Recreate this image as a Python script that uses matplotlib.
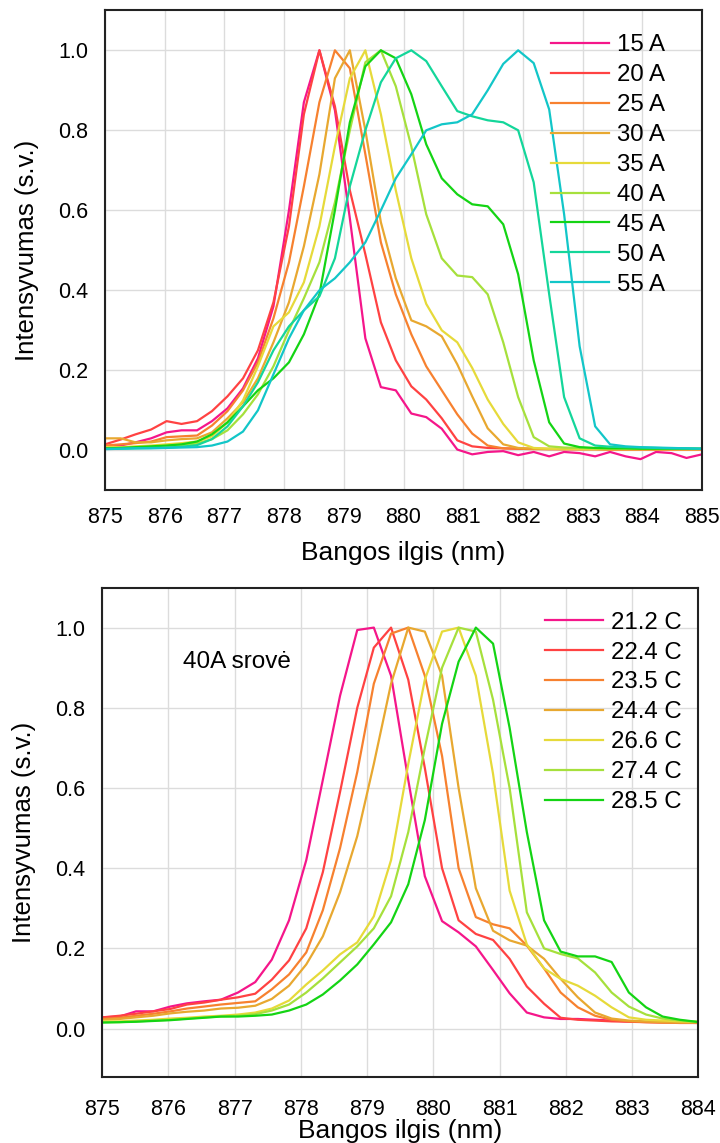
import matplotlib
matplotlib.use("Agg")
import matplotlib.pyplot as plt

# wavelength grid (nm)
wavelengths = [875.00, 875.26, 875.51, 875.77, 876.03, 876.28, 876.54, 876.79, 877.05, 877.31,
               877.56, 877.82, 878.08, 878.33, 878.59, 878.85, 879.10, 879.36, 879.62, 879.87,
               880.13, 880.38, 880.64, 880.90, 881.15, 881.41, 881.67, 881.92, 882.18, 882.44,
               882.69, 882.95, 883.21, 883.46, 883.72, 883.97, 884.23, 884.49, 884.74, 885.00]

# top chart: spectra at different currents
current_labels = ["15 A", "20 A", "25 A", "30 A", "35 A", "40 A", "45 A", "50 A", "55 A"]
i15 = [0.010, 0.012, 0.020, 0.030, 0.045, 0.050, 0.050, 0.073, 0.105, 0.155,
       0.23, 0.36, 0.60, 0.87, 1.00, 0.85, 0.58, 0.28, 0.158, 0.150,
       0.092, 0.083, 0.054, 0.002, -0.010, -0.004, -0.002, -0.012, -0.004, -0.015,
       -0.004, -0.007, -0.015, -0.004, -0.015, -0.022, -0.004, -0.007, -0.019, -0.010]
i20 = [0.015, 0.027, 0.040, 0.052, 0.073, 0.066, 0.073, 0.098, 0.135, 0.18,
       0.25, 0.37, 0.56, 0.84, 1.00, 0.86, 0.65, 0.49, 0.32, 0.225,
       0.16, 0.127, 0.08, 0.025, 0.010, 0.006, 0.005, 0.004, 0.004, 0.003,
       0.003, 0.003, 0.003, 0.002, 0.002, 0.002, 0.002, 0.002, 0.002, 0.002]
i25 = [0.012, 0.015, 0.018, 0.022, 0.033, 0.035, 0.037, 0.062, 0.098, 0.15,
       0.22, 0.33, 0.47, 0.66, 0.87, 1.00, 0.955, 0.74, 0.52, 0.39,
       0.29, 0.21, 0.15, 0.09, 0.042, 0.012, 0.005, 0.004, 0.003, 0.003,
       0.003, 0.003, 0.003, 0.002, 0.002, 0.002, 0.002, 0.002, 0.002, 0.002]
i30 = [0.030, 0.030, 0.020, 0.020, 0.025, 0.028, 0.030, 0.045, 0.080, 0.12,
       0.18, 0.27, 0.37, 0.51, 0.69, 0.93, 1.00, 0.80, 0.57, 0.43,
       0.325, 0.31, 0.285, 0.215, 0.135, 0.055, 0.015, 0.006, 0.004, 0.004,
       0.003, 0.003, 0.003, 0.003, 0.003, 0.003, 0.003, 0.003, 0.003, 0.003]
i35 = [0.008, 0.008, 0.010, 0.012, 0.015, 0.018, 0.022, 0.035, 0.070, 0.125,
       0.21, 0.31, 0.345, 0.42, 0.56, 0.76, 0.93, 1.00, 0.84, 0.65,
       0.48, 0.366, 0.30, 0.27, 0.206, 0.127, 0.066, 0.020, 0.006, 0.004,
       0.004, 0.003, 0.003, 0.003, 0.003, 0.003, 0.003, 0.003, 0.003, 0.003]
i40 = [0.005, 0.006, 0.007, 0.008, 0.010, 0.013, 0.017, 0.028, 0.050, 0.090,
       0.14, 0.21, 0.30, 0.38, 0.47, 0.62, 0.80, 0.97, 1.00, 0.91,
       0.76, 0.59, 0.48, 0.437, 0.433, 0.39, 0.27, 0.133, 0.033, 0.010,
       0.007, 0.006, 0.005, 0.005, 0.004, 0.004, 0.004, 0.004, 0.004, 0.004]
i45 = [0.005, 0.006, 0.008, 0.010, 0.012, 0.015, 0.022, 0.040, 0.070, 0.11,
       0.15, 0.18, 0.22, 0.29, 0.39, 0.60, 0.82, 0.96, 1.00, 0.98,
       0.89, 0.765, 0.68, 0.64, 0.615, 0.61, 0.565, 0.44, 0.225, 0.070,
       0.017, 0.008, 0.006, 0.005, 0.005, 0.004, 0.004, 0.004, 0.004, 0.004]
i50 = [0.004, 0.004, 0.005, 0.006, 0.007, 0.009, 0.013, 0.028, 0.060, 0.11,
       0.17, 0.25, 0.31, 0.35, 0.385, 0.48, 0.66, 0.80, 0.92, 0.98,
       1.00, 0.973, 0.91, 0.848, 0.835, 0.825, 0.82, 0.80, 0.67, 0.39,
       0.133, 0.030, 0.012, 0.009, 0.008, 0.007, 0.006, 0.005, 0.005, 0.004]
i55 = [0.003, 0.004, 0.005, 0.005, 0.006, 0.007, 0.008, 0.012, 0.022, 0.047,
       0.10, 0.19, 0.28, 0.35, 0.40, 0.43, 0.47, 0.52, 0.60, 0.68,
       0.74, 0.80, 0.815, 0.82, 0.84, 0.90, 0.966, 1.00, 0.968, 0.852,
       0.59, 0.26, 0.060, 0.015, 0.010, 0.008, 0.007, 0.006, 0.005, 0.004]

# bottom chart: 40 A spectra at different temperatures (first 36 wavelengths)
temp_labels = ["21.2 C", "22.4 C", "23.5 C", "24.4 C", "26.6 C", "27.4 C", "28.5 C"]
t212 = [0.028, 0.030, 0.043, 0.043, 0.055, 0.063, 0.068, 0.072, 0.090, 0.116,
        0.172, 0.27, 0.42, 0.62, 0.83, 0.994, 1.00, 0.88, 0.62, 0.38,
        0.268, 0.24, 0.205, 0.146, 0.088, 0.040, 0.028, 0.024, 0.024, 0.022,
        0.020, 0.018, 0.017, 0.017, 0.016, 0.015]
t224 = [0.028, 0.032, 0.037, 0.043, 0.049, 0.060, 0.065, 0.072, 0.078, 0.087,
        0.122, 0.17, 0.25, 0.39, 0.59, 0.80, 0.95, 1.00, 0.87, 0.65,
        0.40, 0.27, 0.236, 0.221, 0.174, 0.105, 0.062, 0.027, 0.022, 0.020,
        0.018, 0.017, 0.016, 0.015, 0.014, 0.014]
t235 = [0.024, 0.027, 0.032, 0.037, 0.043, 0.050, 0.055, 0.060, 0.064, 0.068,
        0.098, 0.135, 0.19, 0.295, 0.45, 0.64, 0.86, 0.985, 1.00, 0.88,
        0.68, 0.40, 0.278, 0.26, 0.25, 0.207, 0.15, 0.09, 0.053, 0.032,
        0.022, 0.018, 0.016, 0.015, 0.015, 0.014]
t244 = [0.022, 0.024, 0.028, 0.032, 0.038, 0.042, 0.045, 0.050, 0.052, 0.057,
        0.074, 0.107, 0.16, 0.23, 0.34, 0.48, 0.66, 0.86, 1.00, 0.99,
        0.88, 0.60, 0.35, 0.244, 0.22, 0.207, 0.174, 0.124, 0.078, 0.040,
        0.025, 0.020, 0.018, 0.016, 0.015, 0.015]
t266 = [0.018, 0.018, 0.020, 0.022, 0.025, 0.027, 0.030, 0.032, 0.035, 0.040,
        0.050, 0.070, 0.11, 0.145, 0.185, 0.215, 0.28, 0.42, 0.66, 0.87,
        0.99, 1.00, 0.88, 0.635, 0.344, 0.21, 0.15, 0.124, 0.107, 0.082,
        0.053, 0.028, 0.022, 0.020, 0.018, 0.017]
t274 = [0.016, 0.016, 0.018, 0.020, 0.022, 0.025, 0.028, 0.030, 0.032, 0.036,
        0.045, 0.060, 0.090, 0.125, 0.165, 0.205, 0.25, 0.33, 0.49, 0.70,
        0.90, 1.00, 0.99, 0.82, 0.60, 0.29, 0.20, 0.186, 0.175, 0.14,
        0.090, 0.055, 0.035, 0.025, 0.020, 0.017]
t285 = [0.015, 0.016, 0.017, 0.019, 0.021, 0.024, 0.027, 0.030, 0.030, 0.032,
        0.035, 0.045, 0.060, 0.085, 0.12, 0.16, 0.21, 0.265, 0.36, 0.52,
        0.76, 0.915, 1.00, 0.96, 0.75, 0.49, 0.27, 0.192, 0.18, 0.18,
        0.166, 0.090, 0.053, 0.030, 0.022, 0.017]

colors = ["#f5168a", "#ff4242", "#f7812f", "#e8a830", "#e6da3a",
          "#a6e03c", "#14d414", "#14d69a", "#12c6c8"]

plt.rcParams["font.family"] = ["Liberation Sans", "DejaVu Sans"]

fig = plt.figure(figsize=(7.2, 11.43), dpi=100)


def style_axes(ax, xmax, ymin, tickpad, xlabelpad):
    ax.set_xlim(875, xmax)
    ax.set_ylim(ymin, 1.1)
    ax.set_xticks(range(875, xmax + 1))
    ax.set_yticks([0.0, 0.2, 0.4, 0.6, 0.8, 1.0])
    ax.set_yticklabels(["0.0", "0.2", "0.4", "0.6", "0.8", "1.0"])
    ax.grid(True, color="#dcdcdc", linewidth=1.0)
    ax.set_axisbelow(True)
    ax.tick_params(axis="x", length=0, pad=tickpad, labelsize=15.5)
    ax.tick_params(axis="y", length=0, pad=12, labelsize=15.5)
    for sp in ax.spines.values():
        sp.set_color("#222222")
        sp.set_linewidth(1.5)
    ax.set_xlabel("Bangos ilgis (nm)", fontsize=19, labelpad=xlabelpad)
    ax.set_ylabel("Intensyvumas (s.v.)", fontsize=18.5, labelpad=14)


# top chart
ax1 = fig.add_axes([0.146, 0.571, 0.829, 0.42])
top_series = [i15, i20, i25, i30, i35, i40, i45, i50, i55]
for vals, lab, c in zip(top_series, current_labels, colors):
    ax1.plot(wavelengths, vals, color=c, linewidth=1.6, label=lab)
style_axes(ax1, 885, -0.1, 12, 9)
ax1.legend(loc="upper right", bbox_to_anchor=(0.975, 0.995), frameon=False,
           fontsize=17.3, handlelength=2.4, handletextpad=0.35, labelspacing=0.33)

# bottom chart
ax2 = fig.add_axes([0.142, 0.058, 0.828, 0.428])
bottom_series = [t212, t224, t235, t244, t266, t274, t285]
for vals, lab, c in zip(bottom_series, temp_labels, colors):
    ax2.plot(wavelengths[:36], vals, color=c, linewidth=1.6, label=lab)
style_axes(ax2, 884, -0.12, 16, -1)
ax2.legend(loc="upper right", bbox_to_anchor=(1.008, 0.995), frameon=False,
           fontsize=17.3, handlelength=2.4, handletextpad=0.35, labelspacing=0.33)
ax2.text(877.04, 0.915, "40A srovė", fontsize=17.5, ha="center", va="center")

fig.savefig("out.png", dpi=100)
